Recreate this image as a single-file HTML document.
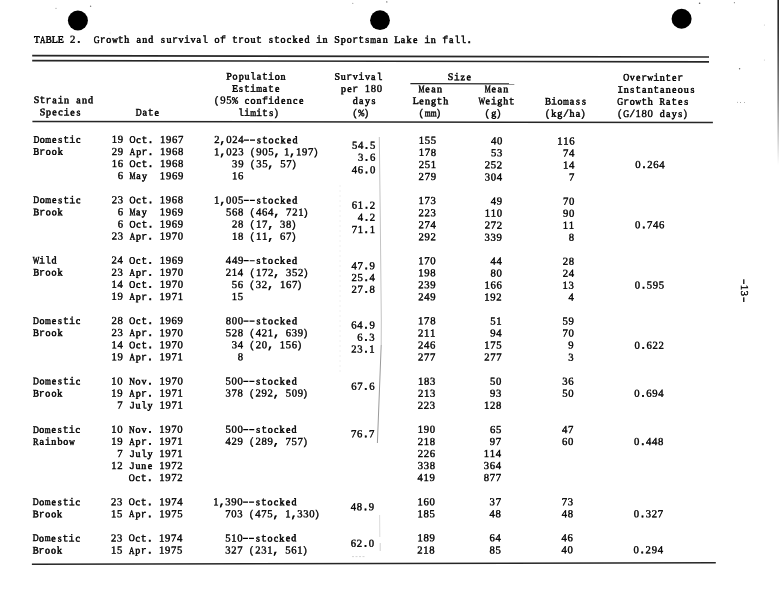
<!DOCTYPE html>
<html><head><meta charset="utf-8"><title>Table 2</title><style>
html,body{margin:0;padding:0;background:#fff;overflow:hidden;}
body{width:779px;height:600px;overflow:hidden;}
svg{display:block;filter:grayscale(1);}
</style></head><body>
<svg width="779" height="600" viewBox="0 0 779 600">
<defs><linearGradient id="edge" x1="0" y1="0" x2="0" y2="1">
<stop offset="0" stop-color="#222"/><stop offset="0.2" stop-color="#333"/><stop offset="0.6" stop-color="#888"/><stop offset="1" stop-color="#fff"/></linearGradient></defs>
<rect width="779" height="600" fill="#fff"/>
<circle cx="77.9" cy="20.5" r="10" fill="#000"/>
<circle cx="380" cy="20.2" r="9.9" fill="#000"/>
<circle cx="681.6" cy="18.7" r="10" fill="#000"/>
<line x1="32.2" y1="55.65" x2="709" y2="57.0" stroke="#262626" stroke-width="1.6"/>
<line x1="32.2" y1="60.6" x2="709" y2="61.9" stroke="#262626" stroke-width="1.6"/>
<line x1="410.4" y1="83.6" x2="514.3" y2="83.9" stroke="#262626" stroke-width="1.1"/>
<line x1="32.4" y1="121.4" x2="712.9" y2="122.5" stroke="#262626" stroke-width="1.5"/>
<line x1="31.9" y1="564.3" x2="715.8" y2="562.7" stroke="#262626" stroke-width="1.5"/>
<polyline points="379.3,137 380.3,220 381.3,320 381.2,345" fill="none" stroke="#c4c4c4" stroke-width="1"/>
<line x1="381.2" y1="345" x2="377.4" y2="443" stroke="#9a9a9a" stroke-width="1"/>
<line x1="379.6" y1="515" x2="379.8" y2="537" stroke="#dcdcdc" stroke-width="1"/>
<line x1="380.2" y1="543" x2="380.2" y2="551" stroke="#d0d0d0" stroke-width="1"/>
<line x1="340" y1="185" x2="340" y2="375" stroke="#f0f0f0" stroke-width="1" stroke-dasharray="2 3"/>
<line x1="352" y1="556.6" x2="365" y2="556.6" stroke="#c8c8c8" stroke-width="0.8" stroke-dasharray="2 1.5"/>
<rect x="777.4" y="0" width="1.6" height="165" fill="url(#edge)"/>
<rect x="743.1" y="279.3" width="1.35" height="4.7" fill="#1a1a1a"/>
<rect x="743.05" y="297.3" width="1.4" height="4.7" fill="#1a1a1a"/>
<circle cx="56" cy="8.3" r="0.6" fill="#999"/>
<circle cx="90.6" cy="6.3" r="0.7" fill="#777"/>
<circle cx="352.8" cy="3.3" r="0.6" fill="#999"/>
<circle cx="386.8" cy="1.9" r="0.7" fill="#666"/>
<circle cx="699.6" cy="3.3" r="0.8" fill="#555"/>
<circle cx="734.4" cy="2.7" r="0.6" fill="#888"/>
<circle cx="764.4" cy="25" r="0.5" fill="#bbb"/>
<circle cx="764.4" cy="60" r="0.5" fill="#bbb"/>
<circle cx="739.6" cy="68.8" r="0.7" fill="#666"/>
<circle cx="737.5" cy="102.3" r="0.5" fill="#999"/>
<circle cx="740.5" cy="102.6" r="0.5" fill="#888"/>
<circle cx="744.5" cy="102.6" r="0.5" fill="#999"/>
<circle cx="110" cy="33" r="0.5" fill="#ccc"/>
<style>.d{font-family:"Liberation Serif";font-size:10.7px;stroke-width:0.38px}.p{stroke-width:0.7px}.s{font-family:"Liberation Serif";font-size:10.0px;stroke-width:0.5px}</style>
<g font-family="Liberation Mono" font-size="10.02" fill="#000" stroke="#000" stroke-width="0.36" style="white-space:pre">
<text y="42.70" transform="rotate(0.0300 33.72 42.70)"><tspan class="s" x="51.85">L</tspan><tspan class="d" x="70.10">2</tspan><tspan class="p" x="75.78">.</tspan><tspan x="99.81">r</tspan><tspan class="s" x="106.32">o</tspan><tspan x="117.83">t</tspan><tspan class="s" x="124.36">h</tspan><tspan class="s" x="136.53">a</tspan><tspan class="s" x="142.33">n</tspan><tspan class="s" x="148.26">d</tspan><tspan class="s" x="160.92">s</tspan><tspan class="s" x="166.42">u</tspan><tspan x="171.90">r</tspan><tspan class="s" x="178.42">v</tspan><tspan x="183.92">i</tspan><tspan class="s" x="190.43">v</tspan><tspan class="s" x="196.61">a</tspan><tspan x="201.94">l</tspan><tspan class="s" x="214.46">o</tspan><tspan x="219.97">f</tspan><tspan x="231.98">t</tspan><tspan x="237.99">r</tspan><tspan class="s" x="244.50">o</tspan><tspan class="s" x="250.53">u</tspan><tspan x="256.02">t</tspan><tspan class="s" x="269.07">s</tspan><tspan x="274.04">t</tspan><tspan class="s" x="280.55">o</tspan><tspan class="s" x="286.80">c</tspan><tspan class="s" x="292.47">k</tspan><tspan class="s" x="298.83">e</tspan><tspan class="s" x="304.46">d</tspan><tspan x="316.10">i</tspan><tspan class="s" x="322.57">n</tspan><tspan class="s" x="334.32">S</tspan><tspan class="s" x="340.75">p</tspan><tspan class="s" x="346.64">o</tspan><tspan x="352.14">r</tspan><tspan x="358.15">t</tspan><tspan class="s" x="365.19">s</tspan><tspan class="s" x="376.85">a</tspan><tspan class="s" x="382.65">n</tspan><tspan class="s" x="394.31">L</tspan><tspan class="s" x="400.89">a</tspan><tspan class="s" x="406.62">k</tspan><tspan class="s" x="412.99">e</tspan><tspan x="424.24">i</tspan><tspan class="s" x="430.71">n</tspan><tspan x="442.26">f</tspan><tspan class="s" x="448.95">a</tspan><tspan x="454.28">l</tspan><tspan x="460.29">l</tspan><tspan class="p" x="466.30">.</tspan></text><text class="s" transform="rotate(0.0300 33.72 42.70) translate(33.91 42.70) scale(0.920 1)">T</text><text class="s" transform="rotate(0.0300 33.72 42.70) translate(40.01 42.70) scale(0.752 1)">A</text><text class="s" transform="rotate(0.0300 33.72 42.70) translate(45.83 42.70) scale(0.899 1)">B</text><text class="s" transform="rotate(0.0300 33.72 42.70) translate(57.82 42.70) scale(0.996 1)">E</text><text class="s" transform="rotate(0.0300 33.72 42.70) translate(93.82 42.70) scale(0.816 1)">G</text><text class="s" transform="rotate(0.0300 33.72 42.70) translate(111.92 42.70) scale(0.809 1)">w</text><text class="s" transform="rotate(0.0300 33.72 42.70) translate(370.21 42.70) scale(0.756 1)">m</text>
<text y="79.52" transform="rotate(0.1542 226.01 79.52)"><tspan class="s" x="226.29">P</tspan><tspan class="s" x="232.54">o</tspan><tspan class="s" x="238.67">p</tspan><tspan class="s" x="244.59">u</tspan><tspan x="250.08">l</tspan><tspan class="s" x="256.78">a</tspan><tspan x="262.12">t</tspan><tspan x="268.13">i</tspan><tspan class="s" x="274.66">o</tspan><tspan class="s" x="280.64">n</tspan></text>
<text y="79.81" transform="rotate(0.1542 334.32 79.81)"><tspan class="s" x="334.53">S</tspan><tspan class="s" x="340.87">u</tspan><tspan x="346.36">r</tspan><tspan class="s" x="352.89">v</tspan><tspan x="358.39">i</tspan><tspan class="s" x="364.92">v</tspan><tspan class="s" x="371.11">a</tspan><tspan x="376.45">l</tspan></text>
<text y="80.12" transform="rotate(0.1542 447.66 80.12)"><tspan class="s" x="447.86">S</tspan><tspan x="453.67">i</tspan><tspan class="s" x="460.49">z</tspan><tspan class="s" x="466.48">e</tspan></text>
<text y="80.59" transform="rotate(0.1542 623.17 80.59)"><tspan class="s" x="629.69">v</tspan><tspan class="s" x="635.97">e</tspan><tspan x="641.22">r</tspan><tspan x="653.25">i</tspan><tspan class="s" x="659.74">n</tspan><tspan x="665.29">t</tspan><tspan class="s" x="672.07">e</tspan><tspan x="677.32">r</tspan></text><text class="s" transform="rotate(0.1542 623.17 80.59) translate(623.18 80.59) scale(0.828 1)">O</text><text class="s" transform="rotate(0.1542 623.17 80.59) translate(647.34 80.59) scale(0.809 1)">w</text>
<text y="91.63" transform="rotate(0.1542 232.03 91.63)"><tspan class="s" x="239.08">s</tspan><tspan x="244.06">t</tspan><tspan x="250.08">i</tspan><tspan class="s" x="262.80">a</tspan><tspan x="268.13">t</tspan><tspan class="s" x="274.92">e</tspan></text><text class="s" transform="rotate(0.1542 232.03 91.63) translate(232.10 91.63) scale(0.996 1)">E</text><text class="s" transform="rotate(0.1542 232.03 91.63) translate(256.15 91.63) scale(0.756 1)">m</text>
<text y="91.93" transform="rotate(0.1542 340.34 91.93)"><tspan class="s" x="340.97">p</tspan><tspan class="s" x="347.13">e</tspan><tspan x="352.38">r</tspan><tspan class="d" x="364.75 370.76 376.78">180</tspan></text>
<text y="92.14" transform="rotate(0.1542 418.57 92.14)"><tspan class="s" x="425.36">e</tspan><tspan class="s" x="431.29">a</tspan><tspan class="s" x="437.09">n</tspan></text><text class="s" transform="rotate(0.1542 418.57 92.14) translate(418.58 92.14) scale(0.674 1)">M</text>
<text y="92.31" transform="rotate(0.1542 484.76 92.31)"><tspan class="s" x="491.55">e</tspan><tspan class="s" x="497.48">a</tspan><tspan class="s" x="503.28">n</tspan></text><text class="s" transform="rotate(0.1542 484.76 92.31) translate(484.78 92.31) scale(0.674 1)">M</text>
<text y="92.67" transform="rotate(0.1542 617.15 92.67)"><tspan x="617.15">I</tspan><tspan class="s" x="623.63">n</tspan><tspan class="s" x="630.22">s</tspan><tspan x="635.20">t</tspan><tspan class="s" x="641.90">a</tspan><tspan class="s" x="647.70">n</tspan><tspan x="653.25">t</tspan><tspan class="s" x="659.95">a</tspan><tspan class="s" x="665.76">n</tspan><tspan class="s" x="672.07">e</tspan><tspan class="s" x="677.83">o</tspan><tspan class="s" x="683.87">u</tspan><tspan class="s" x="690.40">s</tspan></text>
<text y="103.10" transform="rotate(0.1542 33.45 103.10)"><tspan class="s" x="33.65">S</tspan><tspan x="39.47">t</tspan><tspan x="45.48">r</tspan><tspan class="s" x="52.18">a</tspan><tspan x="57.52">i</tspan><tspan class="s" x="64.01">n</tspan><tspan class="s" x="76.25">a</tspan><tspan class="s" x="82.06">n</tspan><tspan class="s" x="88.00">d</tspan></text>
<text y="103.59" transform="rotate(0.1542 213.98 103.59)"><tspan x="213.58">(</tspan><tspan class="d" x="220.33 226.34">95</tspan><tspan x="232.03">%</tspan><tspan class="s" x="244.82">c</tspan><tspan class="s" x="250.59">o</tspan><tspan class="s" x="256.57">n</tspan><tspan x="262.12">f</tspan><tspan x="268.13">i</tspan><tspan class="s" x="274.54">d</tspan><tspan class="s" x="280.94">e</tspan><tspan class="s" x="286.65">n</tspan><tspan class="s" x="292.96">c</tspan><tspan class="s" x="298.99">e</tspan></text>
<text y="103.96" transform="rotate(0.1542 352.38 103.96)"><tspan class="s" x="352.77">d</tspan><tspan class="s" x="359.08">a</tspan><tspan class="s" x="364.88">y</tspan><tspan class="s" x="371.47">s</tspan></text>
<text y="104.12" transform="rotate(0.1542 412.55 104.12)"><tspan class="s" x="412.66">L</tspan><tspan class="s" x="419.34">e</tspan><tspan class="s" x="425.06">n</tspan><tspan class="s" x="430.99">g</tspan><tspan x="436.62">t</tspan><tspan class="s" x="443.17">h</tspan></text>
<text y="104.30" transform="rotate(0.1542 478.75 104.30)"><tspan class="s" x="485.53">e</tspan><tspan x="490.78">i</tspan><tspan class="s" x="497.19">g</tspan><tspan class="s" x="503.34">h</tspan><tspan x="508.83">t</tspan></text><text class="s" transform="rotate(0.1542 478.75 104.30) translate(478.45 104.30) scale(0.701 1)">W</text>
<text y="104.48" transform="rotate(0.1542 544.94 104.48)"><tspan x="550.96">i</tspan><tspan class="s" x="557.48">o</tspan><tspan class="s" x="569.69">a</tspan><tspan class="s" x="576.06">s</tspan><tspan class="s" x="582.08">s</tspan></text><text class="s" transform="rotate(0.1542 544.94 104.48) translate(545.04 104.48) scale(0.899 1)">B</text><text class="s" transform="rotate(0.1542 544.94 104.48) translate(563.04 104.48) scale(0.756 1)">m</text>
<text y="104.67" transform="rotate(0.1542 617.15 104.67)"><tspan x="623.17">r</tspan><tspan class="s" x="629.69">o</tspan><tspan x="641.22">t</tspan><tspan class="s" x="647.76">h</tspan><tspan class="s" x="665.97">a</tspan><tspan x="671.31">t</tspan><tspan class="s" x="678.09">e</tspan><tspan class="s" x="684.38">s</tspan></text><text class="s" transform="rotate(0.1542 617.15 104.67) translate(617.17 104.67) scale(0.816 1)">G</text><text class="s" transform="rotate(0.1542 617.15 104.67) translate(635.30 104.67) scale(0.809 1)">w</text><text class="s" transform="rotate(0.1542 617.15 104.67) translate(659.39 104.67) scale(0.832 1)">R</text>
<text y="115.32" transform="rotate(0.1542 39.47 115.32)"><tspan class="s" x="39.67">S</tspan><tspan class="s" x="46.11">p</tspan><tspan class="s" x="52.27">e</tspan><tspan class="s" x="58.27">c</tspan><tspan x="63.54">i</tspan><tspan class="s" x="70.32">e</tspan><tspan class="s" x="76.61">s</tspan></text>
<text y="115.58" transform="rotate(0.1542 135.75 115.58)"><tspan class="s" x="142.45">a</tspan><tspan x="147.78">t</tspan><tspan class="s" x="154.57">e</tspan></text><text class="s" transform="rotate(0.1542 135.75 115.58) translate(135.87 115.58) scale(0.811 1)">D</text>
<text y="115.85" transform="rotate(0.1542 238.05 115.85)"><tspan x="238.05">l</tspan><tspan x="244.06">i</tspan><tspan x="256.10">i</tspan><tspan x="262.12">t</tspan><tspan class="s" x="269.17">s</tspan><tspan x="273.15">)</tspan></text><text class="s" transform="rotate(0.1542 238.05 115.85) translate(250.13 115.85) scale(0.756 1)">m</text>
<text y="116.16" transform="rotate(0.1542 352.38 116.16)"><tspan x="351.98">(</tspan><tspan x="358.39">%</tspan><tspan x="363.41">)</tspan></text>
<text y="116.34" transform="rotate(0.1542 418.57 116.34)"><tspan x="418.17">(</tspan><tspan x="435.62">)</tspan></text><text class="s" transform="rotate(0.1542 418.57 116.34) translate(424.64 116.34) scale(0.756 1)">m</text><text class="s" transform="rotate(0.1542 418.57 116.34) translate(430.66 116.34) scale(0.756 1)">m</text>
<text y="116.52" transform="rotate(0.1542 484.76 116.52)"><tspan x="484.36">(</tspan><tspan class="s" x="491.17">g</tspan><tspan x="495.80">)</tspan></text>
<text y="116.68" transform="rotate(0.1542 544.94 116.68)"><tspan x="544.54">(</tspan><tspan class="s" x="551.37">k</tspan><tspan class="s" x="557.36">g</tspan><tspan x="562.99">/</tspan><tspan class="s" x="569.53">h</tspan><tspan class="s" x="575.71">a</tspan><tspan x="580.04">)</tspan></text>
<text y="116.87" transform="rotate(0.1542 617.15 116.87)"><tspan x="616.75">(</tspan><tspan x="629.18">/</tspan><tspan class="d" x="635.53 641.55 647.57">180</tspan><tspan class="s" x="659.66">d</tspan><tspan class="s" x="665.97">a</tspan><tspan class="s" x="671.77">y</tspan><tspan class="s" x="678.36">s</tspan><tspan x="682.34">)</tspan></text><text class="s" transform="rotate(0.1542 617.15 116.87) translate(623.19 116.87) scale(0.816 1)">G</text>
<text y="142.65" transform="rotate(0.1285 33.26 142.65)"><tspan class="s" x="39.79">o</tspan><tspan class="s" x="52.08">e</tspan><tspan class="s" x="58.37">s</tspan><tspan x="63.35">t</tspan><tspan x="69.37">i</tspan><tspan class="s" x="76.14">c</tspan></text><text class="s" transform="rotate(0.1285 33.26 142.65) translate(33.39 142.65) scale(0.811 1)">D</text><text class="s" transform="rotate(0.1285 33.26 142.65) translate(45.35 142.65) scale(0.756 1)">m</text>
<text y="154.74" transform="rotate(0.1243 33.24 154.74)"><tspan x="39.26">r</tspan><tspan class="s" x="45.78">o</tspan><tspan class="s" x="51.80">o</tspan><tspan class="s" x="57.72">k</tspan></text><text class="s" transform="rotate(0.1243 33.24 154.74) translate(33.34 154.74) scale(0.899 1)">B</text>
<text y="142.83" transform="rotate(0.1285 111.49 142.83)"><tspan class="d" x="111.83 117.84">19</tspan><tspan class="s" x="136.32">c</tspan><tspan x="141.58">t</tspan><tspan class="p" x="147.60">.</tspan><tspan class="d" x="159.97 165.99 172.01 178.02">1967</tspan></text><text class="s" transform="rotate(0.1285 111.49 142.83) translate(129.57 142.83) scale(0.828 1)">O</text>
<text y="154.90" transform="rotate(0.1243 111.47 154.90)"><tspan class="d" x="111.80 117.82">29</tspan><tspan class="s" x="136.16">p</tspan><tspan x="141.56">r</tspan><tspan class="p" x="147.57">.</tspan><tspan class="d" x="159.94 165.96 171.98 178.00">1968</tspan></text><text class="s" transform="rotate(0.1243 111.47 154.90) translate(129.81 154.90) scale(0.752 1)">A</text>
<text y="166.98" transform="rotate(0.1200 111.44 166.98)"><tspan class="d" x="111.78 117.80">16</tspan><tspan class="s" x="136.27">c</tspan><tspan x="141.53">t</tspan><tspan class="p" x="147.55">.</tspan><tspan class="d" x="159.92 165.93 171.95 177.97">1968</tspan></text><text class="s" transform="rotate(0.1200 111.44 166.98) translate(129.52 166.98) scale(0.828 1)">O</text>
<text y="179.08" transform="rotate(0.1157 117.44 179.08)"><tspan class="d" x="117.77">6</tspan><tspan class="s" x="136.17">a</tspan><tspan class="s" x="141.97">y</tspan><tspan class="d" x="159.89 165.91 171.92 177.94">1969</tspan></text><text class="s" transform="rotate(0.1157 117.44 179.08) translate(129.49 179.08) scale(0.674 1)">M</text>
<text y="143.06" transform="rotate(0.1285 213.80 143.06)"><tspan class="d" x="214.13">2</tspan><tspan class="p" x="219.81">,</tspan><tspan class="d" x="226.17 232.18 238.20">024</tspan><tspan class="s" x="256.96">s</tspan><tspan x="261.94">t</tspan><tspan class="s" x="268.47">o</tspan><tspan class="s" x="274.73">c</tspan><tspan class="s" x="280.41">k</tspan><tspan class="s" x="286.78">e</tspan><tspan class="s" x="292.42">d</tspan></text><path d="M243.99 139.96h5M250.00 139.96h5" stroke-width="1.2" transform="rotate(0.1285 213.80 143.06)"/>
<text y="155.13" transform="rotate(0.1243 213.77 155.13)"><tspan class="d" x="214.10">1</tspan><tspan class="p" x="219.78">,</tspan><tspan class="d" x="226.14 232.15 238.17">023</tspan><tspan x="249.47">(</tspan><tspan class="d" x="256.22 262.24 268.26">905</tspan><tspan class="p" x="273.94">,</tspan></text>
<text y="167.24" transform="rotate(0.1200 231.79 167.24)"><tspan class="d" x="232.12 238.14">39</tspan><tspan x="249.44">(</tspan><tspan class="d" x="256.19 262.21">35</tspan><tspan class="p" x="267.89">,</tspan><tspan class="d" x="280.26 286.28">57</tspan><tspan x="290.96">)</tspan></text>
<text y="179.31" transform="rotate(0.1157 231.76 179.31)"><tspan class="d" x="232.09 238.11">16</tspan></text>
<text y="148.80" transform="rotate(0.1264 351.59 148.80)"><tspan class="d" x="351.92 357.94">54</tspan><tspan class="p" x="363.63">.</tspan><tspan class="d" x="369.98">5</tspan></text>
<text y="160.81" transform="rotate(0.1221 357.57 160.81)"><tspan class="d" x="357.90">3</tspan><tspan class="p" x="363.59">.</tspan><tspan class="d" x="369.94">6</tspan></text>
<text y="173.20" transform="rotate(0.1178 351.52 173.20)"><tspan class="d" x="351.85 357.87">46</tspan><tspan class="p" x="363.55">.</tspan><tspan class="d" x="369.90">0</tspan></text>
<text y="143.81" transform="rotate(0.1285 418.41 143.81)"><tspan class="d" x="418.74 424.76 430.78">155</tspan></text>
<text y="155.87" transform="rotate(0.1243 418.37 155.87)"><tspan class="d" x="418.70 424.72 430.73">178</tspan></text>
<text y="167.93" transform="rotate(0.1200 418.32 167.93)"><tspan class="d" x="418.66 424.68 430.69">251</tspan></text>
<text y="179.98" transform="rotate(0.1157 418.28 179.98)"><tspan class="d" x="418.62 424.63 430.65">279</tspan></text>
<text y="144.28" transform="rotate(0.1285 490.62 144.28)"><tspan class="d" x="490.95 496.97">40</tspan></text>
<text y="156.33" transform="rotate(0.1243 490.58 156.33)"><tspan class="d" x="490.91 496.93">53</tspan></text>
<text y="168.36" transform="rotate(0.1200 484.51 168.36)"><tspan class="d" x="484.85 490.87 496.88">252</tspan></text>
<text y="180.42" transform="rotate(0.1157 484.47 180.42)"><tspan class="d" x="484.80 490.82 496.84">304</tspan></text>
<text y="144.42" transform="rotate(0.1285 556.82 144.42)"><tspan class="d" x="557.15 563.17 569.19">116</tspan></text>
<text y="156.48" transform="rotate(0.1243 562.79 156.48)"><tspan class="d" x="563.12 569.14">74</tspan></text>
<text y="168.53" transform="rotate(0.1200 562.74 168.53)"><tspan class="d" x="563.07 569.09">14</tspan></text>
<text y="180.59" transform="rotate(0.1157 568.71 180.59)"><tspan class="d" x="569.04">7</tspan></text>
<text y="168.08" transform="rotate(0.1200 634.95 168.08)"><tspan class="d" x="635.28">0</tspan><tspan class="p" x="640.96">.</tspan><tspan class="d" x="647.31 653.33 659.35">264</tspan></text>
<text y="203.08" transform="rotate(0.1071 33.16 203.08)"><tspan class="s" x="39.68">o</tspan><tspan class="s" x="51.98">e</tspan><tspan class="s" x="58.26">s</tspan><tspan x="63.24">t</tspan><tspan x="69.26">i</tspan><tspan class="s" x="76.03">c</tspan></text><text class="s" transform="rotate(0.1071 33.16 203.08) translate(33.28 203.08) scale(0.811 1)">D</text><text class="s" transform="rotate(0.1071 33.16 203.08) translate(45.24 203.08) scale(0.756 1)">m</text>
<text y="215.16" transform="rotate(0.1029 33.14 215.16)"><tspan x="39.16">r</tspan><tspan class="s" x="45.68">o</tspan><tspan class="s" x="51.70">o</tspan><tspan class="s" x="57.62">k</tspan></text><text class="s" transform="rotate(0.1029 33.14 215.16) translate(33.24 215.16) scale(0.899 1)">B</text>
<text y="203.22" transform="rotate(0.1071 111.37 203.22)"><tspan class="d" x="111.71 117.72">23</tspan><tspan class="s" x="136.19">c</tspan><tspan x="141.45">t</tspan><tspan class="p" x="147.47">.</tspan><tspan class="d" x="159.84 165.85 171.87 177.88">1968</tspan></text><text class="s" transform="rotate(0.1071 111.37 203.22) translate(129.44 203.22) scale(0.828 1)">O</text>
<text y="215.31" transform="rotate(0.1029 117.36 215.31)"><tspan class="d" x="117.70">6</tspan><tspan class="s" x="136.09">a</tspan><tspan class="s" x="141.89">y</tspan><tspan class="d" x="159.81 165.82 171.84 177.86">1969</tspan></text><text class="s" transform="rotate(0.1029 117.36 215.31) translate(129.41 215.31) scale(0.674 1)">M</text>
<text y="227.39" transform="rotate(0.0986 117.34 227.39)"><tspan class="d" x="117.67">6</tspan><tspan class="s" x="136.14">c</tspan><tspan x="141.40">t</tspan><tspan class="p" x="147.42">.</tspan><tspan class="d" x="159.78 165.80 171.81 177.83">1969</tspan></text><text class="s" transform="rotate(0.0986 117.34 227.39) translate(129.39 227.39) scale(0.828 1)">O</text>
<text y="239.46" transform="rotate(0.0943 111.30 239.46)"><tspan class="d" x="111.63 117.65">23</tspan><tspan class="s" x="135.98">p</tspan><tspan x="141.38">r</tspan><tspan class="p" x="147.39">.</tspan><tspan class="d" x="159.75 165.77 171.79 177.80">1970</tspan></text><text class="s" transform="rotate(0.0943 111.30 239.46) translate(129.63 239.46) scale(0.752 1)">A</text>
<text y="203.41" transform="rotate(0.1071 213.65 203.41)"><tspan class="d" x="213.98">1</tspan><tspan class="p" x="219.67">,</tspan><tspan class="d" x="226.01 232.03 238.05">005</tspan><tspan class="s" x="256.80">s</tspan><tspan x="261.78">t</tspan><tspan class="s" x="268.30">o</tspan><tspan class="s" x="274.56">c</tspan><tspan class="s" x="280.24">k</tspan><tspan class="s" x="286.61">e</tspan><tspan class="s" x="292.25">d</tspan></text><path d="M243.83 200.31h5M249.85 200.31h5" stroke-width="1.2" transform="rotate(0.1071 213.65 203.41)"/>
<text y="215.51" transform="rotate(0.1029 225.65 215.51)"><tspan class="d" x="225.98 232.00 238.02">568</tspan><tspan x="249.32">(</tspan><tspan class="d" x="256.06 262.08 268.10">464</tspan><tspan class="p" x="273.78">,</tspan><tspan class="d" x="286.14 292.16 298.18">721</tspan><tspan x="302.86">)</tspan></text>
<text y="227.59" transform="rotate(0.0986 231.64 227.59)"><tspan class="d" x="231.97 237.99">28</tspan><tspan x="249.28">(</tspan><tspan class="d" x="256.03 262.05">17</tspan><tspan class="p" x="267.73">,</tspan><tspan class="d" x="280.09 286.11">38</tspan><tspan x="290.79">)</tspan></text>
<text y="239.66" transform="rotate(0.0943 231.61 239.66)"><tspan class="d" x="231.94 237.95">18</tspan><tspan x="249.25">(</tspan><tspan class="d" x="256.00 262.02">11</tspan><tspan class="p" x="267.70">,</tspan><tspan class="d" x="280.06 286.08">67</tspan><tspan x="290.76">)</tspan></text>
<text y="208.60" transform="rotate(0.1050 351.41 208.60)"><tspan class="d" x="351.74 357.75">61</tspan><tspan class="p" x="363.44">.</tspan><tspan class="d" x="369.79">2</tspan></text>
<text y="220.81" transform="rotate(0.1007 357.38 220.81)"><tspan class="d" x="357.72">4</tspan><tspan class="p" x="363.40">.</tspan><tspan class="d" x="369.75">2</tspan></text>
<text y="232.90" transform="rotate(0.0964 351.33 232.90)"><tspan class="d" x="351.66 357.68">71</tspan><tspan class="p" x="363.36">.</tspan><tspan class="d" x="369.71">1</tspan></text>
<text y="204.10" transform="rotate(0.1071 418.20 204.10)"><tspan class="d" x="418.54 424.55 430.57">173</tspan></text>
<text y="216.15" transform="rotate(0.1029 418.16 216.15)"><tspan class="d" x="418.50 424.51 430.53">223</tspan></text>
<text y="228.21" transform="rotate(0.0986 418.12 228.21)"><tspan class="d" x="418.46 424.47 430.49">274</tspan></text>
<text y="240.26" transform="rotate(0.0943 418.08 240.26)"><tspan class="d" x="418.41 424.43 430.45">292</tspan></text>
<text y="204.53" transform="rotate(0.1071 490.40 204.53)"><tspan class="d" x="490.73 496.75">49</tspan></text>
<text y="216.57" transform="rotate(0.1029 484.34 216.57)"><tspan class="d" x="484.67 490.69 496.70">110</tspan></text>
<text y="228.62" transform="rotate(0.0986 484.29 228.62)"><tspan class="d" x="484.63 490.64 496.66">272</tspan></text>
<text y="240.67" transform="rotate(0.0943 484.25 240.67)"><tspan class="d" x="484.58 490.60 496.61">339</tspan></text>
<text y="204.67" transform="rotate(0.1071 562.59 204.67)"><tspan class="d" x="562.93 568.94">70</tspan></text>
<text y="216.71" transform="rotate(0.1029 562.55 216.71)"><tspan class="d" x="562.88 568.90">90</tspan></text>
<text y="228.76" transform="rotate(0.0986 562.50 228.76)"><tspan class="d" x="562.83 568.85">11</tspan></text>
<text y="240.81" transform="rotate(0.0943 568.47 240.81)"><tspan class="d" x="568.80">8</tspan></text>
<text y="228.28" transform="rotate(0.0986 634.69 228.28)"><tspan class="d" x="635.02">0</tspan><tspan class="p" x="640.70">.</tspan><tspan class="d" x="647.05 653.07 659.08">746</tspan></text>
<text y="263.50" transform="rotate(0.0857 33.06 263.50)"><tspan x="39.07">i</tspan><tspan x="45.09">l</tspan><tspan class="s" x="51.49">d</tspan></text><text class="s" transform="rotate(0.0857 33.06 263.50) translate(32.76 263.50) scale(0.701 1)">W</text>
<text y="275.59" transform="rotate(0.0815 33.04 275.59)"><tspan x="39.05">r</tspan><tspan class="s" x="45.58">o</tspan><tspan class="s" x="51.59">o</tspan><tspan class="s" x="57.51">k</tspan></text><text class="s" transform="rotate(0.0815 33.04 275.59) translate(33.14 275.59) scale(0.899 1)">B</text>
<text y="263.62" transform="rotate(0.0857 111.25 263.62)"><tspan class="d" x="111.58 117.60">24</tspan><tspan class="s" x="136.06">c</tspan><tspan x="141.32">t</tspan><tspan class="p" x="147.34">.</tspan><tspan class="d" x="159.70 165.72 171.73 177.75">1969</tspan></text><text class="s" transform="rotate(0.0857 111.25 263.62) translate(129.31 263.62) scale(0.828 1)">O</text>
<text y="275.70" transform="rotate(0.0815 111.23 275.70)"><tspan class="d" x="111.56 117.57">23</tspan><tspan class="s" x="135.91">p</tspan><tspan x="141.30">r</tspan><tspan class="p" x="147.31">.</tspan><tspan class="d" x="159.67 165.69 171.70 177.72">1970</tspan></text><text class="s" transform="rotate(0.0815 111.23 275.70) translate(129.55 275.70) scale(0.752 1)">A</text>
<text y="287.78" transform="rotate(0.0772 111.20 287.78)"><tspan class="d" x="111.53 117.55">14</tspan><tspan class="s" x="136.01">c</tspan><tspan x="141.27">t</tspan><tspan class="p" x="147.29">.</tspan><tspan class="d" x="159.65 165.66 171.68 177.69">1970</tspan></text><text class="s" transform="rotate(0.0772 111.20 287.78) translate(129.26 287.78) scale(0.828 1)">O</text>
<text y="299.85" transform="rotate(0.0729 111.18 299.85)"><tspan class="d" x="111.51 117.52">19</tspan><tspan class="s" x="135.86">p</tspan><tspan x="141.25">r</tspan><tspan class="p" x="147.26">.</tspan><tspan class="d" x="159.62 165.63 171.65 177.66">1971</tspan></text><text class="s" transform="rotate(0.0729 111.18 299.85) translate(129.50 299.85) scale(0.752 1)">A</text>
<text y="263.79" transform="rotate(0.0857 225.53 263.79)"><tspan class="d" x="225.86 231.88 237.89">449</tspan><tspan class="s" x="256.64">s</tspan><tspan x="261.62">t</tspan><tspan class="s" x="268.14">o</tspan><tspan class="s" x="274.40">c</tspan><tspan class="s" x="280.07">k</tspan><tspan class="s" x="286.44">e</tspan><tspan class="s" x="292.08">d</tspan></text><path d="M243.67 260.69h5M249.69 260.69h5" stroke-width="1.2" transform="rotate(0.0857 225.53 263.79)"/>
<text y="275.86" transform="rotate(0.0815 225.50 275.86)"><tspan class="d" x="225.83 231.85 237.86">214</tspan><tspan x="249.16">(</tspan><tspan class="d" x="255.90 261.92 267.93">172</tspan><tspan class="p" x="273.62">,</tspan><tspan class="d" x="285.98 291.99 298.00">352</tspan><tspan x="302.69">)</tspan></text>
<text y="287.94" transform="rotate(0.0772 231.48 287.94)"><tspan class="d" x="231.82 237.83">56</tspan><tspan x="249.13">(</tspan><tspan class="d" x="255.87 261.89">32</tspan><tspan class="p" x="267.57">,</tspan><tspan class="d" x="279.93 285.94 291.96">167</tspan><tspan x="296.64">)</tspan></text>
<text y="300.01" transform="rotate(0.0729 231.45 300.01)"><tspan class="d" x="231.79 237.80">15</tspan></text>
<text y="269.30" transform="rotate(0.0836 351.22 269.30)"><tspan class="d" x="351.55 357.57">47</tspan><tspan class="p" x="363.25">.</tspan><tspan class="d" x="369.60">9</tspan></text>
<text y="281.10" transform="rotate(0.0793 351.18 281.10)"><tspan class="d" x="351.52 357.53">25</tspan><tspan class="p" x="363.21">.</tspan><tspan class="d" x="369.56">4</tspan></text>
<text y="292.80" transform="rotate(0.0750 351.15 292.80)"><tspan class="d" x="351.48 357.49">27</tspan><tspan class="p" x="363.17">.</tspan><tspan class="d" x="369.52">8</tspan></text>
<text y="264.29" transform="rotate(0.0857 418.00 264.29)"><tspan class="d" x="418.33 424.35 430.36">170</tspan></text>
<text y="276.30" transform="rotate(0.0815 417.96 276.30)"><tspan class="d" x="418.29 424.31 430.32">198</tspan></text>
<text y="288.32" transform="rotate(0.0772 417.92 288.32)"><tspan class="d" x="418.25 424.27 430.28">239</tspan></text>
<text y="300.33" transform="rotate(0.0729 417.88 300.33)"><tspan class="d" x="418.21 424.22 430.24">249</tspan></text>
<text y="264.61" transform="rotate(0.0857 490.18 264.61)"><tspan class="d" x="490.51 496.52">44</tspan></text>
<text y="276.58" transform="rotate(0.0815 490.13 276.58)"><tspan class="d" x="490.47 496.48">80</tspan></text>
<text y="288.53" transform="rotate(0.0772 484.07 288.53)"><tspan class="d" x="484.41 490.42 496.43">166</tspan></text>
<text y="300.50" transform="rotate(0.0729 484.03 300.50)"><tspan class="d" x="484.36 490.38 496.39">192</tspan></text>
<text y="264.72" transform="rotate(0.0857 562.35 264.72)"><tspan class="d" x="562.69 568.70">28</tspan></text>
<text y="276.68" transform="rotate(0.0815 562.31 276.68)"><tspan class="d" x="562.64 568.65">24</tspan></text>
<text y="288.64" transform="rotate(0.0772 562.26 288.64)"><tspan class="d" x="562.59 568.60">13</tspan></text>
<text y="300.61" transform="rotate(0.0729 568.22 300.61)"><tspan class="d" x="568.55">4</tspan></text>
<text y="288.48" transform="rotate(0.0772 634.43 288.48)"><tspan class="d" x="634.76">0</tspan><tspan class="p" x="640.44">.</tspan><tspan class="d" x="646.79 652.80 658.81">595</tspan></text>
<text y="323.93" transform="rotate(0.0643 32.96 323.93)"><tspan class="s" x="39.48">o</tspan><tspan class="s" x="51.76">e</tspan><tspan class="s" x="58.05">s</tspan><tspan x="63.03">t</tspan><tspan x="69.04">i</tspan><tspan class="s" x="75.80">c</tspan></text><text class="s" transform="rotate(0.0643 32.96 323.93) translate(33.08 323.93) scale(0.811 1)">D</text><text class="s" transform="rotate(0.0643 32.96 323.93) translate(45.03 323.93) scale(0.756 1)">m</text>
<text y="336.01" transform="rotate(0.0600 32.94 336.01)"><tspan x="38.95">r</tspan><tspan class="s" x="45.47">o</tspan><tspan class="s" x="51.48">o</tspan><tspan class="s" x="57.40">k</tspan></text><text class="s" transform="rotate(0.0600 32.94 336.01) translate(33.04 336.01) scale(0.899 1)">B</text>
<text y="324.01" transform="rotate(0.0643 111.13 324.01)"><tspan class="d" x="111.46 117.47">28</tspan><tspan class="s" x="135.93">c</tspan><tspan x="141.20">t</tspan><tspan class="p" x="147.21">.</tspan><tspan class="d" x="159.57 165.58 171.59 177.61">1969</tspan></text><text class="s" transform="rotate(0.0643 111.13 324.01) translate(129.19 324.01) scale(0.828 1)">O</text>
<text y="336.09" transform="rotate(0.0600 111.11 336.09)"><tspan class="d" x="111.44 117.45">23</tspan><tspan class="s" x="135.78">p</tspan><tspan x="141.17">r</tspan><tspan class="p" x="147.18">.</tspan><tspan class="d" x="159.54 165.55 171.57 177.58">1970</tspan></text><text class="s" transform="rotate(0.0600 111.11 336.09) translate(129.43 336.09) scale(0.752 1)">A</text>
<text y="348.17" transform="rotate(0.0557 111.08 348.17)"><tspan class="d" x="111.41 117.43">14</tspan><tspan class="s" x="135.88">c</tspan><tspan x="141.14">t</tspan><tspan class="p" x="147.16">.</tspan><tspan class="d" x="159.51 165.53 171.54 177.55">1970</tspan></text><text class="s" transform="rotate(0.0557 111.08 348.17) translate(129.14 348.17) scale(0.828 1)">O</text>
<text y="360.25" transform="rotate(0.0515 111.06 360.25)"><tspan class="d" x="111.39 117.40">19</tspan><tspan class="s" x="135.73">p</tspan><tspan x="141.12">r</tspan><tspan class="p" x="147.13">.</tspan><tspan class="d" x="159.49 165.50 171.51 177.52">1971</tspan></text><text class="s" transform="rotate(0.0515 111.06 360.25) translate(129.38 360.25) scale(0.752 1)">A</text>
<text y="324.14" transform="rotate(0.0643 225.38 324.14)"><tspan class="d" x="225.71 231.72 237.74">800</tspan><tspan class="s" x="256.48">s</tspan><tspan x="261.46">t</tspan><tspan class="s" x="267.98">o</tspan><tspan class="s" x="274.23">c</tspan><tspan class="s" x="279.91">k</tspan><tspan class="s" x="286.28">e</tspan><tspan class="s" x="291.91">d</tspan></text><path d="M243.52 321.04h5M249.53 321.04h5" stroke-width="1.2" transform="rotate(0.0643 225.38 324.14)"/>
<text y="336.21" transform="rotate(0.0600 225.35 336.21)"><tspan class="d" x="225.68 231.69 237.71">528</tspan><tspan x="249.00">(</tspan><tspan class="d" x="255.74 261.76 267.77">421</tspan><tspan class="p" x="273.45">,</tspan><tspan class="d" x="285.81 291.82 297.83">639</tspan><tspan x="302.52">)</tspan></text>
<text y="348.29" transform="rotate(0.0557 231.33 348.29)"><tspan class="d" x="231.66 237.67">34</tspan><tspan x="248.97">(</tspan><tspan class="d" x="255.71 261.72">20</tspan><tspan class="p" x="267.41">,</tspan><tspan class="d" x="279.76 285.77 291.79">156</tspan><tspan x="296.47">)</tspan></text>
<text y="360.36" transform="rotate(0.0515 237.31 360.36)"><tspan class="d" x="237.64">8</tspan></text>
<text y="328.50" transform="rotate(0.0622 351.04 328.50)"><tspan class="d" x="351.37 357.38">64</tspan><tspan class="p" x="363.06">.</tspan><tspan class="d" x="369.41">9</tspan></text>
<text y="340.71" transform="rotate(0.0579 357.01 340.71)"><tspan class="d" x="357.34">6</tspan><tspan class="p" x="363.02">.</tspan><tspan class="d" x="369.37">3</tspan></text>
<text y="352.60" transform="rotate(0.0536 350.96 352.60)"><tspan class="d" x="351.29 357.31">23</tspan><tspan class="p" x="362.99">.</tspan><tspan class="d" x="369.33">1</tspan></text>
<text y="324.36" transform="rotate(0.0643 417.80 324.36)"><tspan class="d" x="418.13 424.14 430.16">178</tspan></text>
<text y="336.41" transform="rotate(0.0600 417.76 336.41)"><tspan class="d" x="418.09 424.10 430.11">211</tspan></text>
<text y="348.47" transform="rotate(0.0557 417.72 348.47)"><tspan class="d" x="418.05 424.06 430.07">246</tspan></text>
<text y="360.53" transform="rotate(0.0515 417.68 360.53)"><tspan class="d" x="418.01 424.02 430.03">277</tspan></text>
<text y="324.44" transform="rotate(0.0643 489.96 324.44)"><tspan class="d" x="490.29 496.30">51</tspan></text>
<text y="336.49" transform="rotate(0.0600 489.91 336.49)"><tspan class="d" x="490.24 496.26">94</tspan></text>
<text y="348.53" transform="rotate(0.0557 483.85 348.53)"><tspan class="d" x="484.19 490.20 496.21">175</tspan></text>
<text y="360.59" transform="rotate(0.0515 483.81 360.59)"><tspan class="d" x="484.14 490.15 496.17">277</tspan></text>
<text y="324.52" transform="rotate(0.0643 562.11 324.52)"><tspan class="d" x="562.44 568.46">59</tspan></text>
<text y="336.56" transform="rotate(0.0600 562.06 336.56)"><tspan class="d" x="562.40 568.41">70</tspan></text>
<text y="348.62" transform="rotate(0.0557 568.03 348.62)"><tspan class="d" x="568.36">9</tspan></text>
<text y="360.66" transform="rotate(0.0515 567.98 360.66)"><tspan class="d" x="568.31">3</tspan></text>
<text y="348.68" transform="rotate(0.0557 634.17 348.68)"><tspan class="d" x="634.50">0</tspan><tspan class="p" x="640.18">.</tspan><tspan class="d" x="646.52 652.53 658.55">622</tspan></text>
<text y="384.35" transform="rotate(0.0429 32.86 384.35)"><tspan class="s" x="39.38">o</tspan><tspan class="s" x="51.66">e</tspan><tspan class="s" x="57.94">s</tspan><tspan x="62.92">t</tspan><tspan x="68.93">i</tspan><tspan class="s" x="75.69">c</tspan></text><text class="s" transform="rotate(0.0429 32.86 384.35) translate(32.98 384.35) scale(0.811 1)">D</text><text class="s" transform="rotate(0.0429 32.86 384.35) translate(44.93 384.35) scale(0.756 1)">m</text>
<text y="396.44" transform="rotate(0.0386 32.84 396.44)"><tspan x="38.85">r</tspan><tspan class="s" x="45.37">o</tspan><tspan class="s" x="51.38">o</tspan><tspan class="s" x="57.30">k</tspan></text><text class="s" transform="rotate(0.0386 32.84 396.44) translate(32.94 396.44) scale(0.899 1)">B</text>
<text y="384.41" transform="rotate(0.0429 111.01 384.41)"><tspan class="d" x="111.34 117.35">10</tspan><tspan class="s" x="135.56">o</tspan><tspan class="s" x="141.57">v</tspan><tspan class="p" x="147.08">.</tspan><tspan class="d" x="159.43 165.44 171.46 177.47">1970</tspan></text><text class="s" transform="rotate(0.0429 111.01 384.41) translate(129.17 384.41) scale(0.791 1)">N</text>
<text y="396.49" transform="rotate(0.0386 110.99 396.49)"><tspan class="d" x="111.32 117.33">19</tspan><tspan class="s" x="135.65">p</tspan><tspan x="141.04">r</tspan><tspan class="p" x="147.05">.</tspan><tspan class="d" x="159.41 165.42 171.43 177.44">1971</tspan></text><text class="s" transform="rotate(0.0386 110.99 396.49) translate(129.30 396.49) scale(0.752 1)">A</text>
<text y="408.57" transform="rotate(0.0343 116.97 408.57)"><tspan class="d" x="117.30">7</tspan><tspan x="128.99">J</tspan><tspan class="s" x="135.53">u</tspan><tspan x="141.02">l</tspan><tspan class="s" x="147.49">y</tspan><tspan class="d" x="159.38 165.39 171.40 177.41">1971</tspan></text>
<text y="384.49" transform="rotate(0.0429 225.23 384.49)"><tspan class="d" x="225.56 231.57 237.58">500</tspan><tspan class="s" x="256.32">s</tspan><tspan x="261.30">t</tspan><tspan class="s" x="267.81">o</tspan><tspan class="s" x="274.07">c</tspan><tspan class="s" x="279.74">k</tspan><tspan class="s" x="286.11">e</tspan><tspan class="s" x="291.74">d</tspan></text><path d="M243.36 381.39h5M249.37 381.39h5" stroke-width="1.2" transform="rotate(0.0429 225.23 384.49)"/>
<text y="396.56" transform="rotate(0.0386 225.20 396.56)"><tspan class="d" x="225.53 231.54 237.55">378</tspan><tspan x="248.84">(</tspan><tspan class="d" x="255.58 261.60 267.61">292</tspan><tspan class="p" x="273.29">,</tspan><tspan class="d" x="285.64 291.65 297.66">509</tspan><tspan x="302.34">)</tspan></text>
<text y="389.70" transform="rotate(0.0407 350.85 389.70)"><tspan class="d" x="351.18 357.19">67</tspan><tspan class="p" x="362.87">.</tspan><tspan class="d" x="369.22">6</tspan></text>
<text y="384.64" transform="rotate(0.0429 417.60 384.64)"><tspan class="d" x="417.93 423.94 429.95">183</tspan></text>
<text y="396.69" transform="rotate(0.0386 417.56 396.69)"><tspan class="d" x="417.89 423.90 429.91">213</tspan></text>
<text y="408.75" transform="rotate(0.0343 417.52 408.75)"><tspan class="d" x="417.85 423.86 429.87">223</tspan></text>
<text y="384.69" transform="rotate(0.0429 489.73 384.69)"><tspan class="d" x="490.06 496.08">50</tspan></text>
<text y="396.74" transform="rotate(0.0386 489.69 396.74)"><tspan class="d" x="490.02 496.03">93</tspan></text>
<text y="408.79" transform="rotate(0.0343 483.63 408.79)"><tspan class="d" x="483.96 489.98 495.99">128</tspan></text>
<text y="384.75" transform="rotate(0.0429 561.87 384.75)"><tspan class="d" x="562.20 568.21">36</tspan></text>
<text y="396.79" transform="rotate(0.0386 561.82 396.79)"><tspan class="d" x="562.15 568.17">50</tspan></text>
<text y="396.84" transform="rotate(0.0386 633.96 396.84)"><tspan class="d" x="634.29">0</tspan><tspan class="p" x="639.97">.</tspan><tspan class="d" x="646.31 652.32 658.33">694</tspan></text>
<text y="432.69" transform="rotate(0.0300 32.78 432.69)"><tspan class="s" x="39.30">o</tspan><tspan class="s" x="51.57">e</tspan><tspan class="s" x="57.86">s</tspan><tspan x="62.83">t</tspan><tspan x="68.84">i</tspan><tspan class="s" x="75.60">c</tspan></text><text class="s" transform="rotate(0.0300 32.78 432.69) translate(32.90 432.69) scale(0.811 1)">D</text><text class="s" transform="rotate(0.0300 32.78 432.69) translate(44.85 432.69) scale(0.756 1)">m</text>
<text y="444.77" transform="rotate(0.0300 32.76 444.77)"><tspan class="s" x="39.45">a</tspan><tspan x="44.78">i</tspan><tspan class="s" x="51.26">n</tspan><tspan class="s" x="57.49">b</tspan><tspan class="s" x="63.31">o</tspan></text><text class="s" transform="rotate(0.0300 32.76 444.77) translate(32.88 444.77) scale(0.832 1)">R</text><text class="s" transform="rotate(0.0300 32.76 444.77) translate(68.92 444.77) scale(0.809 1)">w</text>
<text y="432.73" transform="rotate(0.0300 110.91 432.73)"><tspan class="d" x="111.24 117.25">10</tspan><tspan class="s" x="135.46">o</tspan><tspan class="s" x="141.47">v</tspan><tspan class="p" x="146.97">.</tspan><tspan class="d" x="159.32 165.33 171.35 177.36">1970</tspan></text><text class="s" transform="rotate(0.0300 110.91 432.73) translate(129.07 432.73) scale(0.791 1)">N</text>
<text y="444.80" transform="rotate(0.0300 110.89 444.80)"><tspan class="d" x="111.22 117.23">19</tspan><tspan class="s" x="135.55">p</tspan><tspan x="140.94">r</tspan><tspan class="p" x="146.95">.</tspan><tspan class="d" x="159.30 165.31 171.32 177.33">1971</tspan></text><text class="s" transform="rotate(0.0300 110.89 444.80) translate(129.20 444.80) scale(0.752 1)">A</text>
<text y="456.89" transform="rotate(0.0300 116.87 456.89)"><tspan class="d" x="117.20">7</tspan><tspan x="128.89">J</tspan><tspan class="s" x="135.43">u</tspan><tspan x="140.91">l</tspan><tspan class="s" x="147.39">y</tspan><tspan class="d" x="159.27 165.28 171.29 177.30">1971</tspan></text>
<text y="468.96" transform="rotate(0.0300 110.84 468.96)"><tspan class="d" x="111.17 117.18">12</tspan><tspan x="128.87">J</tspan><tspan class="s" x="135.40">u</tspan><tspan class="s" x="141.35">n</tspan><tspan class="s" x="147.66">e</tspan><tspan class="d" x="159.24 165.25 171.26 177.27">1972</tspan></text>
<text y="481.04" transform="rotate(0.0300 128.84 481.04)"><tspan class="s" x="135.60">c</tspan><tspan x="140.86">t</tspan><tspan class="p" x="146.87">.</tspan><tspan class="d" x="159.22 165.23 171.24 177.24">1972</tspan></text><text class="s" transform="rotate(0.0300 128.84 481.04) translate(128.86 481.04) scale(0.828 1)">O</text>
<text y="432.78" transform="rotate(0.0300 225.11 432.78)"><tspan class="d" x="225.44 231.45 237.46">500</tspan><tspan class="s" x="256.19">s</tspan><tspan x="261.17">t</tspan><tspan class="s" x="267.68">o</tspan><tspan class="s" x="273.94">c</tspan><tspan class="s" x="279.61">k</tspan><tspan class="s" x="285.97">e</tspan><tspan class="s" x="291.60">d</tspan></text><path d="M243.24 429.68h5M249.25 429.68h5" stroke-width="1.2" transform="rotate(0.0300 225.11 432.78)"/>
<text y="444.85" transform="rotate(0.0300 225.08 444.85)"><tspan class="d" x="225.41 231.42 237.43">429</tspan><tspan x="248.72">(</tspan><tspan class="d" x="255.46 261.47 267.48">289</tspan><tspan class="p" x="273.16">,</tspan><tspan class="d" x="285.51 291.52 297.53">757</tspan><tspan x="302.21">)</tspan></text>
<text y="437.20" transform="rotate(0.0300 350.70 437.20)"><tspan class="d" x="351.03 357.04">76</tspan><tspan class="p" x="362.72">.</tspan><tspan class="d" x="369.06">7</tspan></text>
<text y="432.86" transform="rotate(0.0300 417.43 432.86)"><tspan class="d" x="417.76 423.77 429.78">190</tspan></text>
<text y="444.92" transform="rotate(0.0300 417.39 444.92)"><tspan class="d" x="417.72 423.73 429.74">218</tspan></text>
<text y="456.98" transform="rotate(0.0300 417.35 456.98)"><tspan class="d" x="417.68 423.69 429.70">226</tspan></text>
<text y="469.03" transform="rotate(0.0300 417.31 469.03)"><tspan class="d" x="417.64 423.65 429.66">338</tspan></text>
<text y="481.09" transform="rotate(0.0300 417.27 481.09)"><tspan class="d" x="417.60 423.61 429.62">419</tspan></text>
<text y="432.90" transform="rotate(0.0300 489.56 432.90)"><tspan class="d" x="489.89 495.90">65</tspan></text>
<text y="444.95" transform="rotate(0.0300 489.51 444.95)"><tspan class="d" x="489.84 495.85">97</tspan></text>
<text y="457.00" transform="rotate(0.0300 483.46 457.00)"><tspan class="d" x="483.79 489.80 495.81">114</tspan></text>
<text y="469.05" transform="rotate(0.0300 483.41 469.05)"><tspan class="d" x="483.74 489.75 495.76">364</tspan></text>
<text y="481.10" transform="rotate(0.0300 483.37 481.10)"><tspan class="d" x="483.70 489.71 495.72">877</tspan></text>
<text y="432.93" transform="rotate(0.0300 561.68 432.93)"><tspan class="d" x="562.01 568.02">47</tspan></text>
<text y="444.97" transform="rotate(0.0300 561.63 444.97)"><tspan class="d" x="561.96 567.97">60</tspan></text>
<text y="445.00" transform="rotate(0.0300 633.75 445.00)"><tspan class="d" x="634.08">0</tspan><tspan class="p" x="639.76">.</tspan><tspan class="d" x="646.10 652.11 658.12">448</tspan></text>
<text y="505.20" transform="rotate(0.0300 32.66 505.20)"><tspan class="s" x="39.17">o</tspan><tspan class="s" x="51.45">e</tspan><tspan class="s" x="57.73">s</tspan><tspan x="62.70">t</tspan><tspan x="68.71">i</tspan><tspan class="s" x="75.47">c</tspan></text><text class="s" transform="rotate(0.0300 32.66 505.20) translate(32.78 505.20) scale(0.811 1)">D</text><text class="s" transform="rotate(0.0300 32.66 505.20) translate(44.72 505.20) scale(0.756 1)">m</text>
<text y="517.29" transform="rotate(-0.0300 32.64 517.29)"><tspan x="38.65">r</tspan><tspan class="s" x="45.16">o</tspan><tspan class="s" x="51.17">o</tspan><tspan class="s" x="57.08">k</tspan></text><text class="s" transform="rotate(-0.0300 32.64 517.29) translate(32.73 517.29) scale(0.899 1)">B</text>
<text y="505.20" transform="rotate(0.0300 110.77 505.20)"><tspan class="d" x="111.10 117.11">23</tspan><tspan class="s" x="135.55">c</tspan><tspan x="140.81">t</tspan><tspan class="p" x="146.82">.</tspan><tspan class="d" x="159.16 165.17 171.18 177.19">1974</tspan></text><text class="s" transform="rotate(0.0300 110.77 505.20) translate(128.81 505.20) scale(0.828 1)">O</text>
<text y="517.28" transform="rotate(-0.0300 110.74 517.28)"><tspan class="d" x="111.07 117.08">15</tspan><tspan class="s" x="135.39">p</tspan><tspan x="140.78">r</tspan><tspan class="p" x="146.79">.</tspan><tspan class="d" x="159.14 165.14 171.15 177.16">1975</tspan></text><text class="s" transform="rotate(-0.0300 110.74 517.28) translate(129.05 517.28) scale(0.752 1)">A</text>
<text y="505.20" transform="rotate(0.0300 212.91 505.20)"><tspan class="d" x="213.24">1</tspan><tspan class="p" x="218.92">,</tspan><tspan class="d" x="225.25 231.26 237.27">390</tspan><tspan class="s" x="256.00">s</tspan><tspan x="260.98">t</tspan><tspan class="s" x="267.49">o</tspan><tspan class="s" x="273.74">c</tspan><tspan class="s" x="279.41">k</tspan><tspan class="s" x="285.77">e</tspan><tspan class="s" x="291.40">d</tspan></text><path d="M243.05 502.10h5M249.06 502.10h5" stroke-width="1.2" transform="rotate(0.0300 212.91 505.20)"/>
<text y="517.27" transform="rotate(-0.0300 224.90 517.27)"><tspan class="d" x="225.22 231.23 237.24">703</tspan><tspan x="248.53">(</tspan><tspan class="d" x="255.26 261.27 267.28">475</tspan><tspan class="p" x="272.96">,</tspan><tspan class="d" x="285.30">1</tspan><tspan class="p" x="290.98">,</tspan><tspan class="d" x="297.32 303.33 309.34">330</tspan><tspan x="314.02">)</tspan></text>
<text y="510.20" transform="rotate(-0.0300 350.48 510.20)"><tspan class="d" x="350.81 356.82">48</tspan><tspan class="p" x="362.50">.</tspan><tspan class="d" x="368.83">9</tspan></text>
<text y="505.20" transform="rotate(0.0300 417.19 505.20)"><tspan class="d" x="417.52 423.53 429.54">160</tspan></text>
<text y="517.26" transform="rotate(-0.0300 417.15 517.26)"><tspan class="d" x="417.48 423.49 429.50">185</tspan></text>
<text y="505.20" transform="rotate(0.0300 489.29 505.20)"><tspan class="d" x="489.62 495.63">37</tspan></text>
<text y="517.25" transform="rotate(-0.0300 489.25 517.25)"><tspan class="d" x="489.58 495.58">48</tspan></text>
<text y="505.20" transform="rotate(0.0300 561.39 505.20)"><tspan class="d" x="561.72 567.73">73</tspan></text>
<text y="517.25" transform="rotate(-0.0300 561.34 517.25)"><tspan class="d" x="561.67 567.68">48</tspan></text>
<text y="517.24" transform="rotate(-0.0300 633.44 517.24)"><tspan class="d" x="633.77">0</tspan><tspan class="p" x="639.45">.</tspan><tspan class="d" x="645.78 651.79 657.80">327</tspan></text>
<text y="541.46" transform="rotate(-0.0300 32.60 541.46)"><tspan class="s" x="39.11">o</tspan><tspan class="s" x="51.38">e</tspan><tspan class="s" x="57.66">s</tspan><tspan x="62.64">t</tspan><tspan x="68.64">i</tspan><tspan class="s" x="75.40">c</tspan></text><text class="s" transform="rotate(-0.0300 32.60 541.46) translate(32.72 541.46) scale(0.811 1)">D</text><text class="s" transform="rotate(-0.0300 32.60 541.46) translate(44.66 541.46) scale(0.756 1)">m</text>
<text y="553.54" transform="rotate(-0.0300 32.58 553.54)"><tspan x="38.59">r</tspan><tspan class="s" x="45.10">o</tspan><tspan class="s" x="51.10">o</tspan><tspan class="s" x="57.02">k</tspan></text><text class="s" transform="rotate(-0.0300 32.58 553.54) translate(32.67 553.54) scale(0.899 1)">B</text>
<text y="541.44" transform="rotate(-0.0300 110.70 541.44)"><tspan class="d" x="111.02 117.03">23</tspan><tspan class="s" x="135.47">c</tspan><tspan x="140.73">t</tspan><tspan class="p" x="146.74">.</tspan><tspan class="d" x="159.08 165.09 171.10 177.10">1974</tspan></text><text class="s" transform="rotate(-0.0300 110.70 541.44) translate(128.73 541.44) scale(0.828 1)">O</text>
<text y="553.52" transform="rotate(-0.0300 110.67 553.52)"><tspan class="d" x="111.00 117.01">15</tspan><tspan class="s" x="135.32">p</tspan><tspan x="140.71">r</tspan><tspan class="p" x="146.71">.</tspan><tspan class="d" x="159.06 165.06 171.07 177.08">1975</tspan></text><text class="s" transform="rotate(-0.0300 110.67 553.52) translate(128.97 553.52) scale(0.752 1)">A</text>
<text y="541.41" transform="rotate(-0.0300 224.83 541.41)"><tspan class="d" x="225.16 231.17 237.18">510</tspan><tspan class="s" x="255.91">s</tspan><tspan x="260.88">t</tspan><tspan class="s" x="267.39">o</tspan><tspan class="s" x="273.64">c</tspan><tspan class="s" x="279.31">k</tspan><tspan class="s" x="285.67">e</tspan><tspan class="s" x="291.30">d</tspan></text><path d="M242.96 538.31h5M248.96 538.31h5" stroke-width="1.2" transform="rotate(-0.0300 224.83 541.41)"/>
<text y="553.48" transform="rotate(-0.0300 224.80 553.48)"><tspan class="d" x="225.13 231.14 237.15">327</tspan><tspan x="248.43">(</tspan><tspan class="d" x="255.17 261.18 267.18">231</tspan><tspan class="p" x="272.86">,</tspan><tspan class="d" x="285.20 291.21 297.22">561</tspan><tspan x="301.90">)</tspan></text>
<text y="546.70" transform="rotate(-0.0300 350.37 546.70)"><tspan class="d" x="350.70 356.71">62</tspan><tspan class="p" x="362.38">.</tspan><tspan class="d" x="368.72">0</tspan></text>
<text y="541.37" transform="rotate(-0.0300 417.07 541.37)"><tspan class="d" x="417.40 423.41 429.41">189</tspan></text>
<text y="553.42" transform="rotate(-0.0300 417.03 553.42)"><tspan class="d" x="417.36 423.36 429.37">218</tspan></text>
<text y="541.35" transform="rotate(-0.0300 489.16 541.35)"><tspan class="d" x="489.49 495.49">64</tspan></text>
<text y="553.40" transform="rotate(-0.0300 489.11 553.40)"><tspan class="d" x="489.44 495.45">85</tspan></text>
<text y="541.34" transform="rotate(-0.0300 561.25 541.34)"><tspan class="d" x="561.57 567.58">46</tspan></text>
<text y="553.38" transform="rotate(-0.0300 561.20 553.38)"><tspan class="d" x="561.53 567.53">40</tspan></text>
<text y="553.36" transform="rotate(-0.0300 633.28 553.36)"><tspan class="d" x="633.61">0</tspan><tspan class="p" x="639.29">.</tspan><tspan class="d" x="645.62 651.63 657.64">294</tspan></text>
<text y="155.28" transform="rotate(0.1243 283.58 155.28)"><tspan class="d" x="283.91">1</tspan><tspan class="p" x="289.60">,</tspan><tspan class="d" x="295.95 301.96 307.98">197</tspan><tspan x="312.67">)</tspan></text>
<text x="741.0" y="284.4" transform="rotate(90 741.0 284.4)"><tspan class="d" x="741.33 747.34">13</tspan></text>
</g>
</svg>
</body></html>
